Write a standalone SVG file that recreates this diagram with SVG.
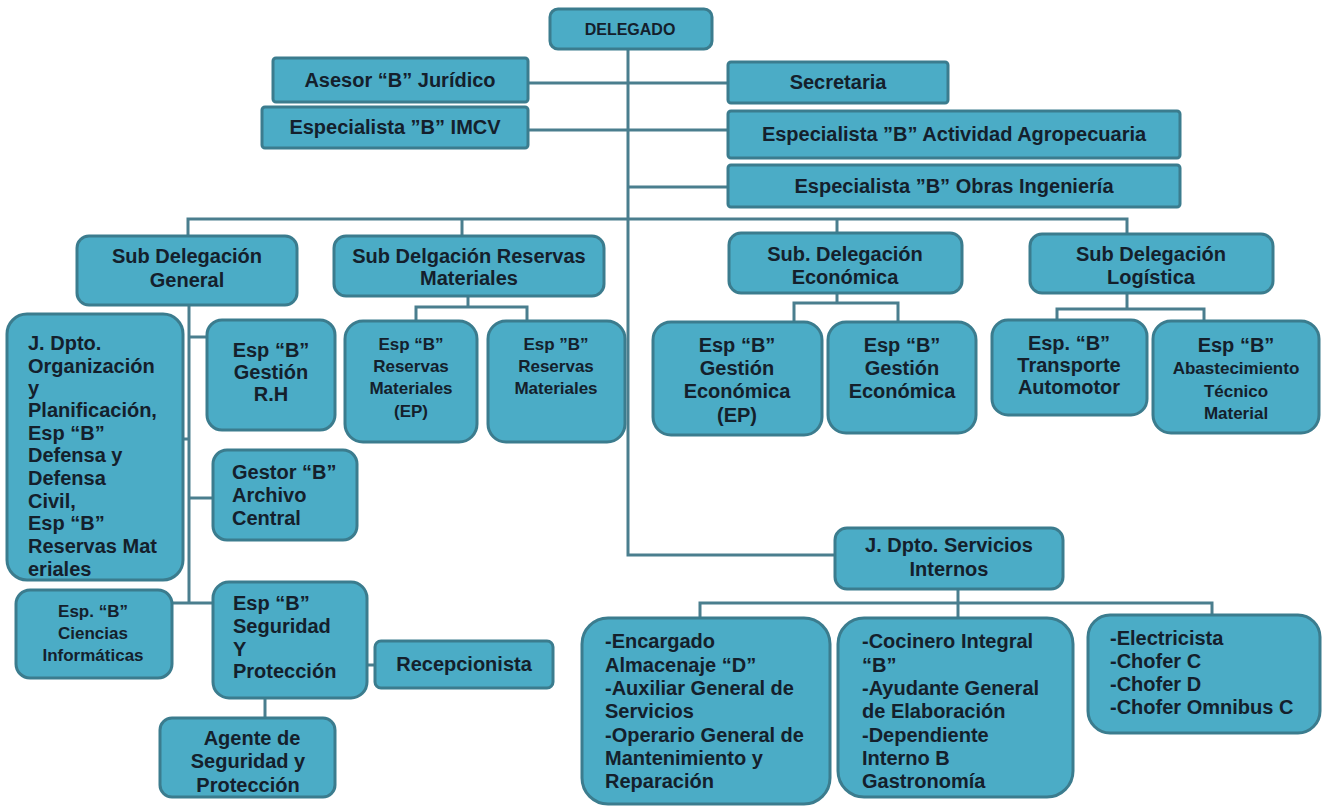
<svg xmlns="http://www.w3.org/2000/svg" width="1322" height="806" viewBox="0 0 1322 806">
<style>
.bx{fill:#4BACC6;stroke:#3B7C8E;stroke-width:3}
.ln{fill:none;stroke:#4A7E8E;stroke-width:3}
text{font-family:"Liberation Sans",Arial,sans-serif;font-weight:bold;fill:#14202C;font-size:20px}
.c{text-anchor:middle}
.s17{font-size:17px}
.s16{font-size:16px}
</style>
<rect width="1322" height="806" fill="#FFFFFF"/>
<g id="connectors">
<path class="ln" d="M628,49 V555 H835"/>
<path class="ln" d="M528,83 H728"/>
<path class="ln" d="M528,130 H728"/>
<path class="ln" d="M628,187 H728"/>
<path class="ln" d="M188,236 V219 H1127 V234"/>
<path class="ln" d="M462,219 V236"/>
<path class="ln" d="M837,219 V233"/>
<path class="ln" d="M189,305 V603"/>
<path class="ln" d="M189,337 H207"/>
<path class="ln" d="M182,439 H189"/>
<path class="ln" d="M189,498 H213"/>
<path class="ln" d="M172,603 H213"/>
<path class="ln" d="M367,665 H375"/>
<path class="ln" d="M265,698 V718"/>
<path class="ln" d="M468,296 V307"/>
<path class="ln" d="M416,322 V307 H527 V322"/>
<path class="ln" d="M837,293 V303"/>
<path class="ln" d="M794,322 V303 H898 V322"/>
<path class="ln" d="M1127,293 V309"/>
<path class="ln" d="M1057,322 V309 H1204 V322"/>
<path class="ln" d="M958,589 V618"/>
<path class="ln" d="M700,618 V603 H1212 V615"/>
</g>
<g id="delegado"><rect class="bx" x="550" y="9" width="162" height="40" rx="8"/><text class="c s16" x="630" y="35">DELEGADO</text></g>
<g id="asesor"><rect class="bx" x="273" y="58" width="255" height="44" rx="3"/><text class="c" x="400" y="87">Asesor “B” Jurídico</text></g>
<g id="imcv"><rect class="bx" x="262" y="107" width="266" height="41" rx="3"/><text class="c" x="395" y="134">Especialista ”B” IMCV</text></g>
<g id="secretaria"><rect class="bx" x="728" y="62" width="220" height="41" rx="3"/><text class="c" x="838" y="89">Secretaria</text></g>
<g id="agropecuaria"><rect class="bx" x="728" y="111" width="452" height="47" rx="3"/><text class="c" x="954" y="141">Especialista ”B” Actividad Agropecuaria</text></g>
<g id="obras"><rect class="bx" x="728" y="165" width="452" height="42" rx="3"/><text class="c" x="954" y="193">Especialista ”B” Obras Ingeniería</text></g>
<g id="sub-general"><rect class="bx" x="77" y="236" width="220" height="69" rx="12"/><text class="c" x="187" y="263">Sub Delegación</text><text class="c" x="187" y="287">General</text></g>
<g id="sub-reservas"><rect class="bx" x="334" y="236" width="270" height="60" rx="12"/><text class="c" x="469" y="263">Sub Delgación Reservas</text><text class="c" x="469" y="285">Materiales</text></g>
<g id="sub-economica"><rect class="bx" x="729" y="233" width="233" height="60" rx="12"/><text class="c" x="845" y="261">Sub. Delegación</text><text class="c" x="845" y="284">Económica</text></g>
<g id="sub-logistica"><rect class="bx" x="1030" y="234" width="243" height="59" rx="12"/><text class="c" x="1151" y="261">Sub Delegación</text><text class="c" x="1151" y="284">Logística</text></g>
<g id="j-organizacion"><rect class="bx" x="7" y="314" width="176" height="266" rx="20"/>
<text x="28" y="350">J. Dpto.</text><text x="28" y="373">Organización</text><text x="28" y="395">y</text><text x="28" y="417">Planificación,</text><text x="28" y="440">Esp “B”</text><text x="28" y="462">Defensa y</text><text x="28" y="485">Defensa</text><text x="28" y="508">Civil,</text><text x="28" y="530">Esp “B”</text><text x="28" y="553">Reservas Mat</text><text x="28" y="576">eriales</text></g>
<g id="gestion-rh"><rect class="bx" x="207" y="320" width="128" height="110" rx="15"/><text class="c" x="271" y="357">Esp “B”</text><text class="c" x="271" y="379">Gestión</text><text class="c" x="271" y="401">R.H</text></g>
<g id="gestor-archivo"><rect class="bx" x="213" y="450" width="144" height="90" rx="14"/><text x="232" y="479">Gestor “B”</text><text x="232" y="502">Archivo</text><text x="232" y="525">Central</text></g>
<g id="ciencias"><rect class="bx" x="16" y="590" width="156" height="88" rx="14"/><text class="c s17" x="93" y="617">Esp. “B”</text><text class="c s17" x="93" y="639">Ciencias</text><text class="c s17" x="93" y="661">Informáticas</text></g>
<g id="seguridad"><rect class="bx" x="213" y="582" width="154" height="116" rx="16"/><text x="233" y="610">Esp “B”</text><text x="233" y="633">Seguridad</text><text x="233" y="656">Y</text><text x="233" y="678">Protección</text></g>
<g id="recepcionista"><rect class="bx" x="375" y="641" width="178" height="47" rx="6"/><text class="c" x="464" y="671">Recepcionista</text></g>
<g id="agente"><rect class="bx" x="160" y="718" width="175" height="79" rx="12"/><text class="c" x="252" y="745">Agente de</text><text class="c" x="248" y="768">Seguridad y</text><text class="c" x="248" y="792">Protección</text></g>
<g id="reservas-ep"><rect class="bx" x="345" y="321" width="132" height="121" rx="18"/><text class="c s17" x="411" y="350">Esp “B”</text><text class="c s17" x="411" y="372">Reservas</text><text class="c s17" x="411" y="394">Materiales</text><text class="c s17" x="411" y="417">(EP)</text></g>
<g id="reservas"><rect class="bx" x="488" y="321" width="137" height="121" rx="18"/><text class="c s17" x="556" y="350">Esp ”B”</text><text class="c s17" x="556" y="372">Reservas</text><text class="c s17" x="556" y="394">Materiales</text></g>
<g id="gestion-eco-ep"><rect class="bx" x="653" y="322" width="169" height="113" rx="18"/><text class="c" x="737" y="352">Esp “B”</text><text class="c" x="737" y="375">Gestión</text><text class="c" x="737" y="398">Económica</text><text class="c" x="737" y="422">(EP)</text></g>
<g id="gestion-eco"><rect class="bx" x="828" y="322" width="148" height="111" rx="18"/><text class="c" x="902" y="352">Esp “B”</text><text class="c" x="902" y="375">Gestión</text><text class="c" x="902" y="398">Económica</text></g>
<g id="transporte"><rect class="bx" x="992" y="320" width="155" height="95" rx="16"/><text class="c" x="1069" y="350">Esp. “B”</text><text class="c" x="1069" y="372">Transporte</text><text class="c" x="1069" y="394">Automotor</text></g>
<g id="abastecimiento"><rect class="bx" x="1153" y="321" width="166" height="112" rx="18"/><text class="c" x="1236" y="352">Esp “B”</text><text class="c s17" x="1236" y="374">Abastecimiento</text><text class="c s17" x="1236" y="397">Técnico</text><text class="c s17" x="1236" y="419">Material</text></g>
<g id="j-servicios"><rect class="bx" x="835" y="528" width="228" height="61" rx="12"/><text class="c" x="949" y="552">J. Dpto. Servicios</text><text class="c" x="949" y="576">Internos</text></g>
<g id="servicios-1"><rect class="bx" x="582" y="618" width="248" height="186" rx="26"/><text x="605" y="648">-Encargado</text><text x="605" y="672">Almacenaje “D”</text><text x="605" y="695">-Auxiliar General de</text><text x="605" y="718">Servicios</text><text x="605" y="742">-Operario General de</text><text x="605" y="765">Mantenimiento y</text><text x="605" y="788">Reparación</text></g>
<g id="servicios-2"><rect class="bx" x="838" y="618" width="235" height="179" rx="26"/><text x="862" y="648">-Cocinero Integral</text><text x="862" y="672">“B”</text><text x="862" y="695">-Ayudante General</text><text x="862" y="718">de Elaboración</text><text x="862" y="742">-Dependiente</text><text x="862" y="765">Interno B</text><text x="862" y="788">Gastronomía</text></g>
<g id="servicios-3"><rect class="bx" x="1088" y="615" width="232" height="118" rx="22"/><text x="1110" y="645">-Electricista</text><text x="1110" y="668">-Chofer C</text><text x="1110" y="691">-Chofer D</text><text x="1110" y="714">-Chofer Omnibus C</text></g>
</svg>
